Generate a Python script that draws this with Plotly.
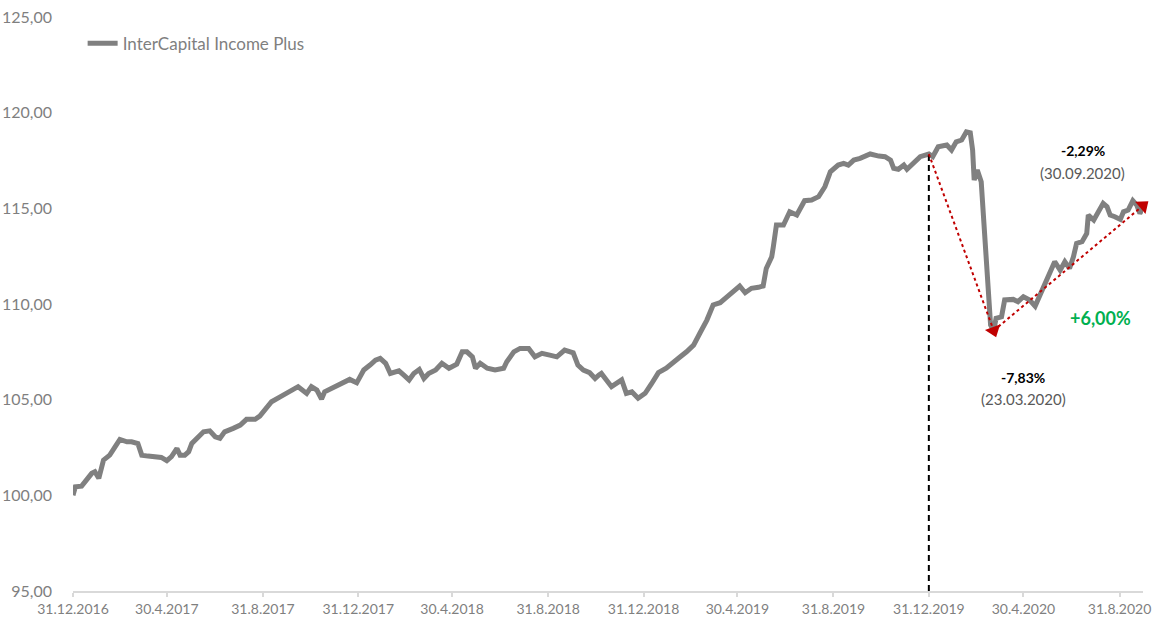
import plotly.graph_objects as go

# ---- data ----
dates = [
    "2016-12-31", "2017-01-03", "2017-01-11", "2017-01-18", "2017-01-24", "2017-01-28",
    "2017-02-02", "2017-02-08", "2017-02-16", "2017-02-23", "2017-03-01", "2017-03-10",
    "2017-03-16", "2017-03-24", "2017-03-29", "2017-04-06", "2017-04-17", "2017-04-23",
    "2017-04-30", "2017-05-06", "2017-05-13", "2017-05-17", "2017-05-23", "2017-05-28",
    "2017-06-01", "2017-06-07", "2017-06-16", "2017-06-24", "2017-07-01", "2017-07-07",
    "2017-07-13", "2017-07-24", "2017-08-02", "2017-08-10", "2017-08-21", "2017-08-27",
    "2017-09-05", "2017-09-11", "2017-09-22", "2017-09-30", "2017-10-09", "2017-10-15",
    "2017-10-26", "2017-11-01", "2017-11-08", "2017-11-14", "2017-11-18", "2017-11-27",
    "2017-12-08", "2017-12-20", "2017-12-29", "2018-01-07", "2018-01-15", "2018-01-22",
    "2018-01-28", "2018-02-04", "2018-02-10", "2018-02-21", "2018-02-27", "2018-03-06",
    "2018-03-12", "2018-03-19", "2018-03-25", "2018-03-31", "2018-04-09", "2018-04-17",
    "2018-04-26", "2018-05-06", "2018-05-13", "2018-05-19", "2018-05-26", "2018-05-30",
    "2018-06-05", "2018-06-14", "2018-06-24", "2018-07-05", "2018-07-09", "2018-07-18",
    "2018-07-26", "2018-08-06", "2018-08-14", "2018-08-23", "2018-09-02", "2018-09-11",
    "2018-09-21", "2018-10-02", "2018-10-08", "2018-10-15", "2018-10-23", "2018-10-30",
    "2018-11-04", "2018-11-07", "2018-11-20", "2018-12-03", "2018-12-09", "2018-12-16",
    "2018-12-24", "2019-01-02", "2019-01-10", "2019-01-19", "2019-01-29", "2019-02-07",
    "2019-02-16", "2019-02-24", "2019-03-05", "2019-03-13", "2019-03-22", "2019-03-30",
    "2019-04-08", "2019-04-16", "2019-04-25", "2019-05-03", "2019-05-10", "2019-05-18",
    "2019-05-27", "2019-06-02", "2019-06-06", "2019-06-13", "2019-06-15", "2019-06-19",
    "2019-06-28", "2019-07-06", "2019-07-15", "2019-07-25", "2019-08-03", "2019-08-12",
    "2019-08-20", "2019-08-27", "2019-09-06", "2019-09-13", "2019-09-19", "2019-09-26",
    "2019-10-04", "2019-10-17", "2019-10-28", "2019-11-05", "2019-11-12", "2019-11-16",
    "2019-11-22", "2019-11-29", "2019-12-03", "2019-12-11", "2019-12-20", "2019-12-31",
    "2020-01-05", "2020-01-12", "2020-01-23", "2020-01-29", "2020-02-04", "2020-02-11",
    "2020-02-17", "2020-02-22", "2020-02-25", "2020-02-27", "2020-03-02", "2020-03-07",
    "2020-03-10", "2020-03-12", "2020-03-16", "2020-03-19", "2020-03-23", "2020-03-26",
    "2020-04-02", "2020-04-06", "2020-04-17", "2020-04-23", "2020-04-30", "2020-05-08",
    "2020-05-15", "2020-05-21", "2020-05-25", "2020-05-30", "2020-06-05", "2020-06-09",
    "2020-06-16", "2020-06-22", "2020-06-28", "2020-07-03", "2020-07-07", "2020-07-14",
    "2020-07-20", "2020-07-22", "2020-07-29", "2020-08-04", "2020-08-10", "2020-08-15",
    "2020-08-19", "2020-08-25", "2020-09-01", "2020-09-05", "2020-09-11", "2020-09-17",
    "2020-09-22", "2020-09-26", "2020-09-30",
]
values = [
    100.00, 100.45, 100.48, 100.89, 101.15, 101.23,
    100.89, 101.84, 102.10, 102.54, 102.92, 102.80,
    102.80, 102.71, 102.10, 102.05, 101.98, 101.98,
    101.81, 102.02, 102.45, 102.10, 102.10, 102.28,
    102.71, 102.98, 103.32, 103.37, 103.06, 102.98,
    103.32, 103.50, 103.67, 103.97, 103.97, 104.14,
    104.54, 104.89, 105.15, 105.33, 105.54, 105.68,
    105.33, 105.68, 105.50, 105.03, 105.41, 105.59,
    105.88, 106.06, 105.88, 106.55, 106.81, 107.07,
    107.16, 106.90, 106.37, 106.51, 106.29, 106.03,
    106.37, 106.58, 106.11, 106.37, 106.55, 106.90,
    106.64, 106.86, 107.50, 107.50, 107.24, 106.64,
    106.90, 106.64, 106.55, 106.64, 106.98, 107.50,
    107.68, 107.68, 107.24, 107.42, 107.33, 107.24,
    107.59, 107.45, 106.81, 106.55, 106.41, 106.11,
    106.29, 106.37, 105.68, 106.03, 105.33, 105.41,
    105.07, 105.33, 105.82, 106.41, 106.64, 106.98,
    107.24, 107.50, 107.85, 108.47, 109.16, 109.95,
    110.07, 110.35, 110.64, 110.94, 110.59, 110.82,
    110.87, 110.94, 111.86, 112.47, 112.99, 114.13,
    114.13, 114.82, 114.65, 115.40, 115.43, 115.61,
    116.13, 116.91, 117.26, 117.35, 117.26, 117.52,
    117.61, 117.84, 117.73, 117.70, 117.52, 117.09,
    117.04, 117.26, 117.04, 117.35, 117.70, 117.84,
    117.70, 118.22, 118.31, 118.05, 118.48, 118.57,
    119.00, 118.95, 118.05, 116.48, 117.00, 116.39,
    114.56, 112.65, 110.38, 108.90, 108.61, 109.25,
    109.33, 110.21, 110.24, 110.12, 110.38, 110.21,
    109.89, 110.47, 110.73, 111.25, 111.86, 112.21,
    111.77, 112.21, 111.86, 112.47, 113.17, 113.26,
    113.69, 114.65, 114.39, 114.82, 115.26, 115.08,
    114.65, 114.56, 114.42, 114.82, 114.91, 115.40,
    115.17, 114.74, 115.00,
]
series_name = "InterCapital Income Plus"

tick_dates = ["2016-12-31", "2017-04-30", "2017-08-31", "2017-12-31", "2018-04-30",
              "2018-08-31", "2018-12-31", "2019-04-30", "2019-08-31", "2019-12-31",
              "2020-04-30", "2020-08-31"]
tick_labels = ["31.12.2016", "30.4.2017", "31.8.2017", "31.12.2017", "30.4.2018",
               "31.8.2018", "31.12.2018", "30.4.2019", "31.8.2019", "31.12.2019",
               "30.4.2020", "31.8.2020"]
y_ticks = [95, 100, 105, 110, 115, 120, 125]

# key points for the arrows
start_date, start_val = "2019-12-31", 117.84
low_date, low_val = "2020-03-23", 108.61
end_date, end_val = "2020-09-30", 115.14

drop_label, drop_date_label = "-7,83%", "(23.03.2020)"
total_label, total_date_label = "-2,29%", "(30.09.2020)"
rebound_label = "+6,00%"

FONT = "Lato"
GREY_TXT = "#7f7f7f"
RED = "#c00000"

fig = go.Figure()

fig.add_trace(go.Scatter(
    x=dates, y=values, mode="lines", name=series_name,
    line=dict(color="#808080", width=5), hoverinfo="skip",
))

# vertical dashed line at 31.12.2019
fig.add_trace(go.Scatter(
    x=[start_date, start_date], y=[95, start_val], mode="lines",
    line=dict(color="black", width=2, dash="6px,4px"), showlegend=False, hoverinfo="skip",
))

# dotted arrows
for (x0, y0, x1, y1) in [(start_date, start_val, low_date, low_val),
                         (low_date, low_val, end_date, end_val)]:
    fig.add_trace(go.Scatter(
        x=[x0, x1], y=[y0, y1], mode="lines",
        line=dict(color=RED, width=2, dash="dot"), showlegend=False, hoverinfo="skip",
    ))
    fig.add_trace(go.Scatter(
        x=[x0, x1], y=[y0, y1], mode="markers", cliponaxis=False,
        marker=dict(symbol="triangle-up", size=[0, 14], color=RED, angleref="previous",
                    opacity=1, line=dict(width=0)),
        showlegend=False, hoverinfo="skip",
    ))

ann = []
ann.append(dict(x="2020-07-15", y=118.0, text="<b>" + total_label + "</b>",
                font=dict(family=FONT, size=14, color="black")))
ann.append(dict(x="2020-07-15", y=116.85, text=total_date_label,
                font=dict(family=FONT, size=15, color="#595959")))
ann.append(dict(x="2020-04-30", y=106.18, text="<b>" + drop_label + "</b>",
                font=dict(family=FONT, size=14, color="black")))
ann.append(dict(x="2020-04-30", y=105.03, text=drop_date_label,
                font=dict(family=FONT, size=15, color="#595959")))
ann.append(dict(x="2020-08-07", y=109.27, text="<b>" + rebound_label + "</b>",
                font=dict(family=FONT, size=18, color="#00b050")))
for a in ann:
    a.update(xref="x", yref="y", showarrow=False, xanchor="center", yanchor="middle")

fig.update_layout(
    width=1154, height=629,
    margin=dict(l=73, r=11, t=17, b=38, autoexpand=False),
    paper_bgcolor="white", plot_bgcolor="white",
    separators=",.",
    font=dict(family=FONT, color=GREY_TXT),
    annotations=ann,
    showlegend=True,
    legend=dict(x=0.009, y=0.985, xanchor="left", yanchor="top",
                bgcolor="rgba(0,0,0,0)", font=dict(family=FONT, size=17, color=GREY_TXT),
                itemwidth=30),
    xaxis=dict(
        type="date", range=["2016-12-31", "2020-09-30"],
        tickvals=tick_dates, ticktext=tick_labels,
        showgrid=False, zeroline=False, automargin=False, ticklabeloverflow="allow",
        showline=True, linecolor="#d9d9d9", linewidth=1.5,
        ticks="outside", ticklen=4, tickcolor="#d9d9d9", tickwidth=1.5,
        tickfont=dict(family=FONT, size=14, color=GREY_TXT),
    ),
    yaxis=dict(
        range=[95, 125], tickvals=y_ticks, tickformat=".2f",
        showgrid=False, zeroline=False, showline=False, ticks="",
        ticklabelstandoff=20, automargin=False, ticklabeloverflow="allow",
        tickfont=dict(family=FONT, size=16, color=GREY_TXT),
    ),
)

# remove the default 8px page margin so the figure fills the window exactly
fig.write_html("out.html", config={"displayModeBar": False},
               post_script="document.body.style.margin='0';")
